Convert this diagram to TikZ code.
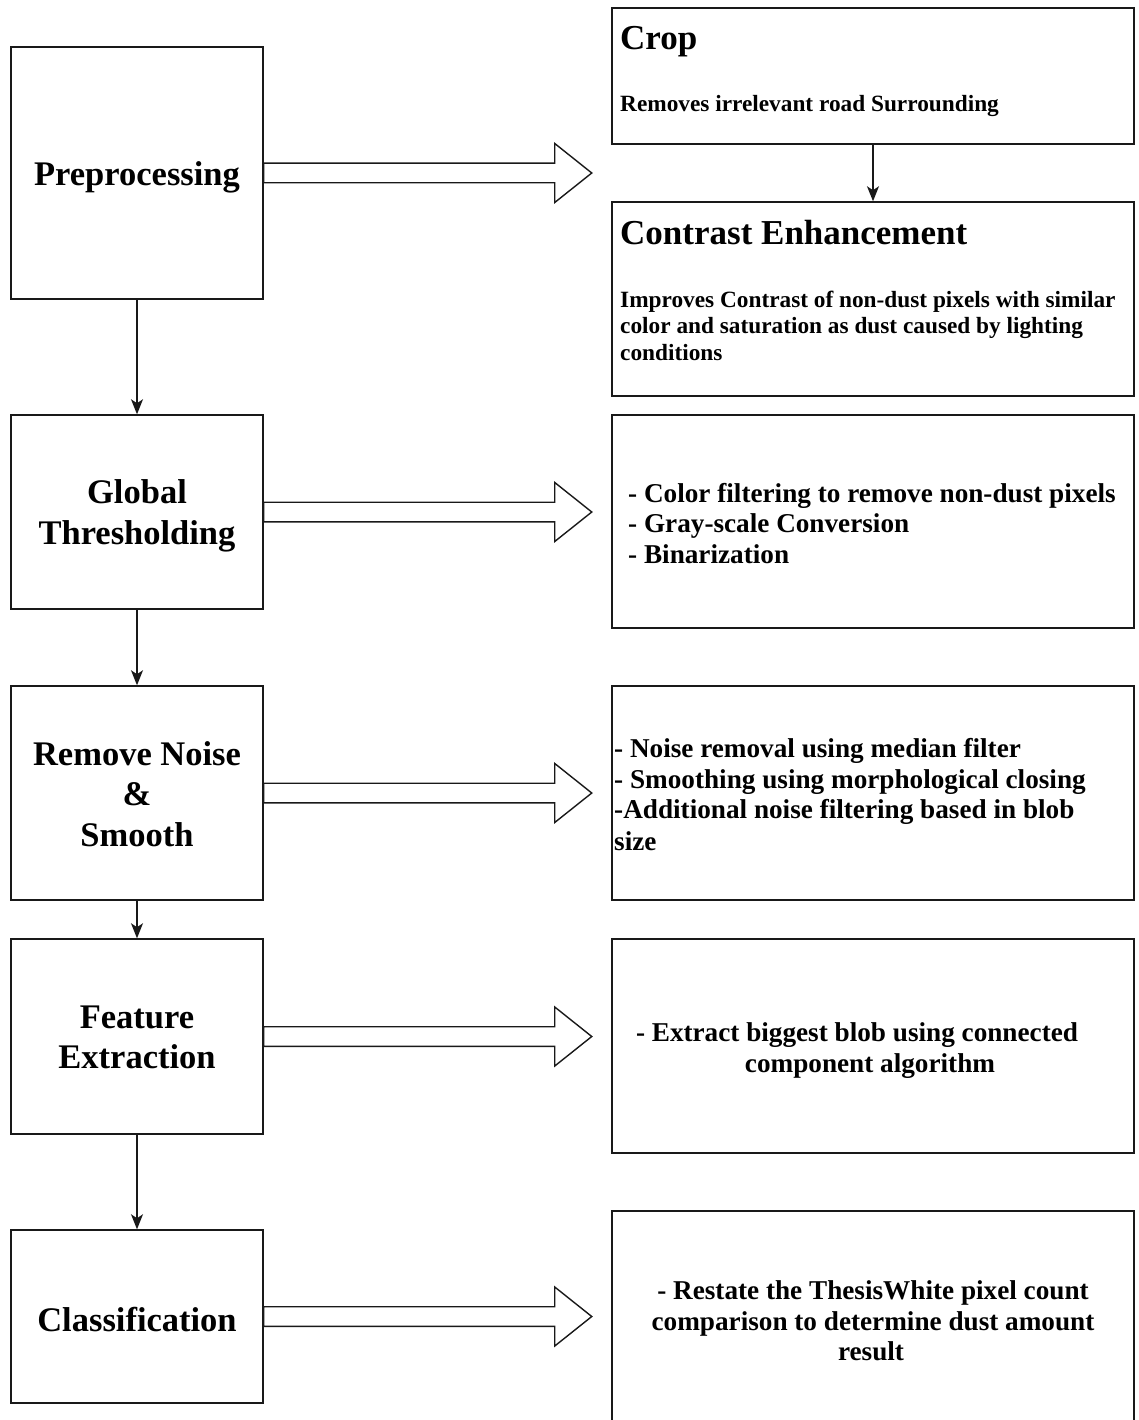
\documentclass[tikz,border=0pt]{standalone}
\usepackage{fontspec}
\setmainfont{Liberation Serif}
\usetikzlibrary{arrows.meta}

\tikzset{
  stagebox/.style={draw=black!90, line width=1.5pt, fill=white, inner sep=0pt,
    minimum width=252pt},
  infobox/.style={draw=black!90, line width=1.5pt, fill=white, inner sep=0pt,
    minimum width=522pt},
  stagetext/.style={anchor=base, inner sep=0pt,
    font=\fontsize{34.5}{41}\selectfont\bfseries},
  headtext/.style={anchor=base west, inner sep=0pt,
    font=\fontsize{35}{42}\selectfont\bfseries},
  smalltext/.style={inner sep=0pt, font=\fontsize{23.3}{27}\selectfont\bfseries},
  bodytext/.style={inner sep=0pt, font=\fontsize{27.2}{31}\selectfont\bfseries},
  flow/.style={draw=black!90, line width=1.3pt,
    -{Stealth[length=15pt,width=12pt,inset=4pt]}},
  blockarrow/.style={draw=black!90, line width=1.4pt, fill=white, line join=miter}
}

\begin{document}
\begin{tikzpicture}[x=1pt, y=-1pt]
\useasboundingbox (0,0) rectangle (1138,1420);
\clip (0,0) rectangle (1138,1420);

% left column: processing stages
\node[stagebox, minimum height=252pt] (pre)   at (137,173)    {};
\node[stagebox, minimum height=194pt] (glob)  at (137,512)    {};
\node[stagebox, minimum height=214pt] (noise) at (137,793)    {};
\node[stagebox, minimum height=195pt] (feat)  at (137,1036.5) {};
\node[stagebox, minimum height=173pt] (cls)   at (137,1316.5) {};

\node[stagetext] (pre-t)    at (137,186)    {Preprocessing};
\node[stagetext] (glob-t1)  at (137,503)    {Global};
\node[stagetext] (glob-t2)  at (137,544)    {Thresholding};
\node[stagetext] (noise-t1) at (137,765)    {Remove Noise};
\node[stagetext] (noise-t2) at (137,805)    {\&};
\node[stagetext] (noise-t3) at (137,846)    {Smooth};
\node[stagetext] (feat-t1)  at (137,1028)   {Feature};
\node[stagetext] (feat-t2)  at (137,1068.6) {Extraction};
\node[stagetext] (cls-t)    at (137,1331)   {Classification};

% right column: details of each stage
\node[infobox, minimum height=136pt] (crop)     at (873,76)     {};
\node[infobox, minimum height=194pt] (contrast) at (873,299)    {};
\node[infobox, minimum height=213pt] (thr)      at (873,521.5)  {};
\node[infobox, minimum height=214pt] (den)      at (873,793)    {};
\node[infobox, minimum height=214pt] (ext)      at (873,1046)   {};
\node[infobox, minimum height=229pt] (res)      at (873,1325.5) {};

\node[headtext] (crop-h) at (620,50) {Crop};
\node[smalltext, anchor=base west] (crop-b) at (620,112) {Removes irrelevant road Surrounding};

\node[headtext] (contrast-h) at (620,245) {Contrast Enhancement};
\node[smalltext, anchor=base west] (contrast-b1) at (620,307)   {Improves Contrast of non-dust pixels with similar};
\node[smalltext, anchor=base west] (contrast-b2) at (620,333.5) {color and saturation as dust caused by lighting};
\node[smalltext, anchor=base west] (contrast-b3) at (620,360)   {conditions};

\node[bodytext, anchor=base west] (thr-1) at (628,502)   {- Color filtering to remove non-dust pixels};
\node[bodytext, anchor=base west] (thr-2) at (628,532.5) {- Gray-scale Conversion};
\node[bodytext, anchor=base west] (thr-3) at (628,563)   {- Binarization};

\node[bodytext, anchor=base west] (den-1) at (614,757)   {- Noise removal using median filter};
\node[bodytext, anchor=base west] (den-2) at (614,788)   {- Smoothing using morphological closing};
\node[bodytext, anchor=base west] (den-3) at (614,818.5) {-Additional noise filtering based in blob};
\node[bodytext, anchor=base west] (den-4) at (614,850)   {size};

\node[bodytext, anchor=base] (ext-1) at (857,1041) {- Extract biggest blob using connected};
\node[bodytext, anchor=base] (ext-2) at (870,1072) {component algorithm};

\node[bodytext, anchor=base] (res-1) at (873,1299) {- Restate the ThesisWhite pixel count};
\node[bodytext, anchor=base] (res-2) at (873,1330) {comparison to determine dust amount};
\node[bodytext, anchor=base] (res-3) at (871,1360) {result};

% flow between stages
\draw[flow] (pre)   -- (glob);
\draw[flow] (glob)  -- (noise);
\draw[flow] (noise) -- (feat);
\draw[flow] (feat)  -- (cls);
\draw[flow] (crop)  -- (contrast);

% hollow block arrows from each stage to its details
\foreach \s in {pre,glob,noise,feat,cls} {
  \draw[blockarrow] (\s.east) ++(0,-9.8) -- ++(291,0) -- ++(0,-19.7)
    -- ++(37,29.5) -- ++(-37,29.5) -- ++(0,-19.7) -- ++(-291,0) -- cycle;
}
\end{tikzpicture}
\end{document}
